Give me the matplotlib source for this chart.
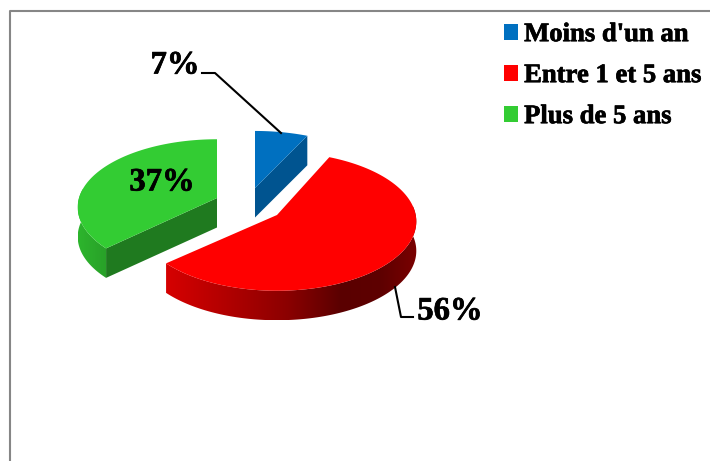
import numpy as np
import matplotlib
matplotlib.use('Agg')
import matplotlib.pyplot as plt
import matplotlib.patheffects as pe
from matplotlib.colors import LinearSegmentedColormap
from matplotlib.patches import Patch, Polygon

plt.rcParams['font.family'] = ['Liberation Serif', 'DejaVu Serif']

categories = ["Moins d'un an", "Entre 1 et 5 ans", "Plus de 5 ans"]
values = [7, 56, 37]

top_colors = ['#0070C0', '#FF0000', '#33CC33']
cut_colors = ['#005490', '#8a0000', '#1F7A1F']

# where each slice sits once pulled away from the middle
centers = [(255, 188), (277, 212), (217, 198)]
tips = [(255, 188), (277, 215), (217, 198)]
stretch = [1.0, 1.05, 1.03]

RX, RY, PERSP, DEPTH = 138, 64.8, 0.136, 29.5

red_side = LinearSegmentedColormap.from_list(
    'red_side', [(0, '#D60000'), (0.25, '#B00000'), (0.48, '#8C0000'),
                 (0.70, '#5A0000'), (0.86, '#5E0000'), (1, '#7A0000')])
green_side = LinearSegmentedColormap.from_list('green_side', ['#2DB52D', '#28A028'])

# thickens the bold serif a little
heavy = [pe.withStroke(linewidth=0.5, foreground='black')]


def rim(i, deg):
    # clockwise from 12 o'clock, tilted disc seen with some perspective
    t = np.radians(deg)
    w = 1 + PERSP * np.cos(t)
    return centers[i][0] + RX * np.sin(t) / w, centers[i][1] - RY * stretch[i] * np.cos(t) / w


def draw_side(ax, i, start, end, cmap):
    # round outer wall: horizontal gradient clipped to the wall shape
    x, y = rim(i, np.linspace(start, end, 200))
    pts = np.r_[np.c_[x, y], np.c_[x, y + DEPTH][::-1]]
    wall = Polygon(pts, closed=True, transform=ax.transData, fc='none', ec='none')
    ax.add_patch(wall)
    grad = np.linspace(0, 1, 256).reshape(1, -1)
    im = ax.imshow(grad, cmap=cmap, aspect='auto', zorder=2,
                   extent=[x.min(), x.max(), (y + DEPTH).max(), y.min()])
    im.set_clip_path(wall)


def draw_cut(ax, i, deg, color):
    x, y = rim(i, deg)
    cx, cy = tips[i]
    ax.fill([cx, x, x, cx], [cy, y, y + DEPTH, cy + DEPTH], color=color, lw=0, zorder=2)


fig = plt.figure(figsize=(7.1, 4.61), dpi=100)
ax = fig.add_axes([0, 0, 1, 1])
ax.axis('off')

# chart border, only the left and top edges fit on the page
ax.plot([10, 10, 710], [461, 11, 11], color='#868686', lw=1.5, zorder=1)

edges = np.cumsum([0] + values) * 3.6

draw_cut(ax, 0, edges[1], cut_colors[0])
draw_side(ax, 1, edges[1] + 60, edges[2], red_side)
draw_side(ax, 2, edges[2], 278, green_side)
draw_cut(ax, 2, edges[2], cut_colors[2])

for i in range(3):
    x, y = rim(i, np.linspace(edges[i], edges[i + 1], 120))
    ax.fill(np.r_[tips[i][0], x], np.r_[tips[i][1], y], color=top_colors[i], lw=0, zorder=3)

# leader lines
ax.plot([202, 215, 281], [73, 73, 133], color='black', lw=1.5, zorder=4)
ax.plot([395, 401, 413], [287, 317, 317], color='black', lw=1.5, zorder=4)

label_pos = [(175, 65), (450, 311), (162, 182)]
for v, (lx, ly) in zip(values, label_pos):
    ax.text(lx, ly, str(v) + '%', fontsize=23.5, fontweight='bold', ha='center', va='center',
            zorder=5, path_effects=heavy)

ax.set_xlim(0, 710)
ax.set_ylim(461, 0)

handles = [Patch(facecolor=c, edgecolor='none') for c in top_colors]
leg = ax.legend(handles, categories, loc='upper left', bbox_to_anchor=(0.710, 0.952),
                frameon=False, handlelength=0.53, handleheight=0.53, handletextpad=0.22,
                labelspacing=0.60, borderpad=0, borderaxespad=0,
                prop={'family': 'Liberation Serif', 'weight': 'bold', 'size': 19.2})
for t in leg.get_texts():
    t.set_path_effects(heavy)

fig.savefig('out.png', dpi=100)
